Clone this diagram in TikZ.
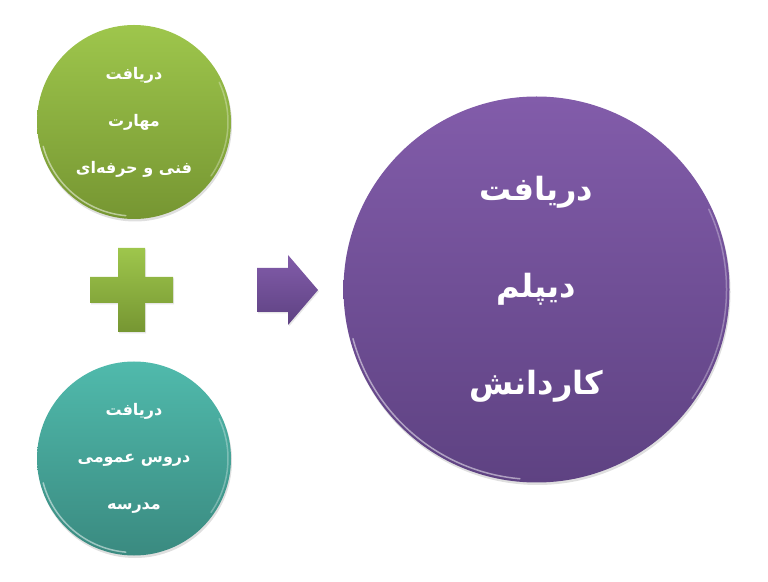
\documentclass[tikz,border=0pt]{standalone}
\usepackage{fontspec}
\newfontfamily\arabicfont[Script=Arabic]{DejaVu Sans}
\TeXXeTstate=1
\usetikzlibrary{shadows}
\newcommand{\rtlline}[1]{\beginR #1\endR}
\definecolor{greenTop}{RGB}{158,198,76}
\definecolor{greenBot}{RGB}{118,150,50}
\definecolor{tealTop}{RGB}{80,186,172}
\definecolor{tealBot}{RGB}{58,138,128}
\definecolor{purpTop}{RGB}{130,92,170}
\definecolor{purpBot}{RGB}{94,66,130}
\tikzset{
  ball/.style={circle, inner sep=0pt, align=center, text=white,
    drop shadow={opacity=0.25, shadow xshift=1pt, shadow yshift=-2.5pt}},
  smalltext/.style={font=\arabicfont\bfseries\fontsize{16}{47}\selectfont},
  bigtext/.style={font=\arabicfont\bfseries\fontsize{32}{97}\selectfont},
  gloss/.style={white, opacity=0.5, line width=1.5pt, line cap=round},
  symbolshape/.style={drop shadow={opacity=0.2, shadow xshift=1pt, shadow yshift=-1.5pt}}
}
\begin{document}
\begin{tikzpicture}[x=1pt,y=1pt]
\useasboundingbox (0,0) rectangle (768,581);
% circles
\node[ball, smalltext, minimum size=194pt, top color=greenTop, bottom color=greenBot] (skill) at (134,459)
  {\rtlline{دریافت}\\\rtlline{مهارت}\\\rtlline{فنی و حرفه‌ای}};
\node[ball, smalltext, minimum size=194pt, top color=tealTop, bottom color=tealBot] (school) at (134,122.5)
  {\rtlline{دریافت}\\\rtlline{دروس عمومی}\\\rtlline{مدرسه}};
\node[ball, bigtext, minimum size=386pt, top color=purpTop, bottom color=purpBot] (diploma) at (536.5,291.5)
  {\rtlline{دریافت}\\\rtlline{دیپلم}\\\rtlline{کاردانش}};
% gloss highlights
\draw[gloss] (skill.center) ++(195:94pt) arc[start angle=195, end angle=265, radius=94pt];
\draw[gloss] (school.center) ++(195:94pt) arc[start angle=195, end angle=265, radius=94pt];
\draw[gloss] (diploma.center) ++(195:190pt) arc[start angle=195, end angle=265, radius=190pt];
\draw[gloss, opacity=0.3] (skill.center) ++(-35:94pt) arc[start angle=-35, end angle=25, radius=94pt];
\draw[gloss, opacity=0.3] (school.center) ++(-35:94pt) arc[start angle=-35, end angle=25, radius=94pt];
\draw[gloss, opacity=0.3] (diploma.center) ++(-35:190pt) arc[start angle=-35, end angle=25, radius=190pt];
% plus sign
\shade[symbolshape, top color=greenTop, bottom color=greenBot]
  (118,333) -- (145,333) -- (145,304) -- (173,304) -- (173,278) -- (145,278)
  -- (145,249) -- (118,249) -- (118,278) -- (90,278) -- (90,304) -- (118,304) -- cycle;
% arrow
\shade[symbolshape, top color=purpTop, bottom color=purpBot]
  (257,313) -- (288,313) -- (288,326) -- (318,291) -- (288,256) -- (288,269)
  -- (257,269) -- cycle;
\end{tikzpicture}
\end{document}
